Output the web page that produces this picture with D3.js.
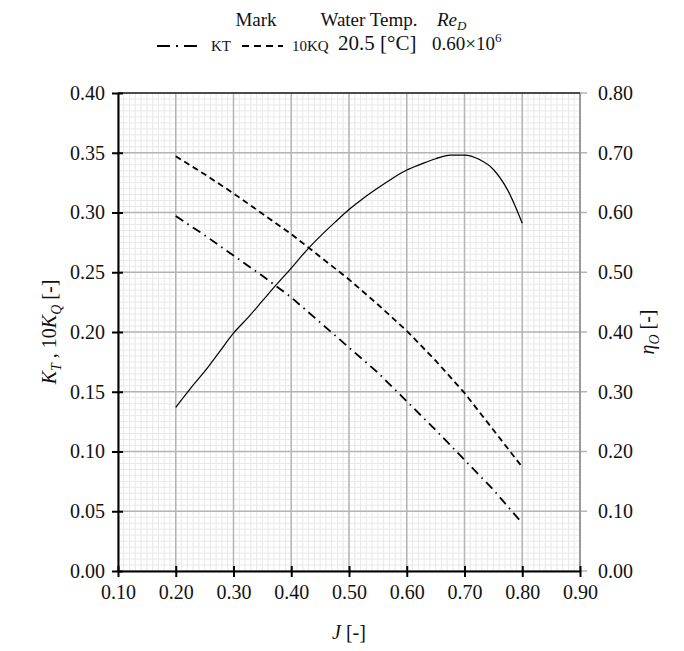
<!DOCTYPE html>
<html>
<head>
<meta charset="utf-8">
<script src="https://cdn.jsdelivr.net/npm/d3@7"></script>
<style>
  body { margin: 0; background: #fff; }
  svg { font-family: "Liberation Serif", "Times New Roman", serif; }
</style>
</head>
<body>
<svg id="chart" width="684" height="651"></svg>
<script>
// valores
var J = [0.20, 0.25, 0.30, 0.35, 0.40, 0.45, 0.50, 0.55, 0.60, 0.65, 0.70, 0.75, 0.80];
var KT = [0.297, 0.281, 0.264, 0.247, 0.229, 0.208, 0.187, 0.166, 0.142, 0.118, 0.093, 0.068, 0.040];
var KQ10 = [0.347, 0.332, 0.316, 0.299, 0.282, 0.263, 0.244, 0.223, 0.201, 0.176, 0.149, 0.118, 0.087];

var etaJ = [0.200, 0.225, 0.250, 0.275, 0.300, 0.325, 0.350, 0.375, 0.400, 0.425, 0.450, 0.475, 0.500,
            0.525, 0.550, 0.575, 0.600, 0.625, 0.650, 0.675, 0.700, 0.725, 0.750, 0.775, 0.800];
var eta = [0.274, 0.305, 0.334, 0.366, 0.398, 0.424, 0.452, 0.480, 0.507, 0.535, 0.560, 0.583, 0.605,
           0.624, 0.641, 0.657, 0.671, 0.681, 0.690, 0.696, 0.696, 0.689, 0.672, 0.637, 0.582];

var xTicks = [0.1, 0.2, 0.3, 0.4, 0.5, 0.6, 0.7, 0.8, 0.9];
var yLeftTicks = [0, 0.05, 0.10, 0.15, 0.20, 0.25, 0.30, 0.35, 0.40];
var yRightTicks = [0, 0.1, 0.2, 0.3, 0.4, 0.5, 0.6, 0.7, 0.8];

function dibujar(){

    var svg = d3.select('#chart');

    var pLeft = 118, pRight = 580, pTop = 93, pBottom = 571;

    var x = d3.scaleLinear().domain([0.1, 0.9]).range([pLeft, pRight]),
        yL = d3.scaleLinear().domain([0, 0.4]).range([pBottom, pTop]),
        yR = d3.scaleLinear().domain([0, 0.8]).range([pBottom, pTop]);

    var fmt = d3.format(".2f");

    /* rejilla menor */
    var grid = svg.append("g");
    grid.selectAll(".vmin")
        .data(d3.range(0.1, 0.9001, 0.01))
        .enter().append("line")
        .attr("x1", function(d){ return x(d); }).attr("x2", function(d){ return x(d); })
        .attr("y1", pTop).attr("y2", pBottom)
        .attr("stroke", "#e8e8e8").attr("stroke-width", 1);
    grid.selectAll(".hmin")
        .data(d3.range(0, 0.4001, 0.005))
        .enter().append("line")
        .attr("y1", function(d){ return yL(d); }).attr("y2", function(d){ return yL(d); })
        .attr("x1", pLeft).attr("x2", pRight)
        .attr("stroke", "#e8e8e8").attr("stroke-width", 1);

    /* rejilla mayor */
    grid.selectAll(".vmaj")
        .data(xTicks)
        .enter().append("line")
        .attr("x1", function(d){ return x(d); }).attr("x2", function(d){ return x(d); })
        .attr("y1", pTop).attr("y2", pBottom)
        .attr("stroke", "#b4b4b4").attr("stroke-width", 1.5);
    grid.selectAll(".hmaj")
        .data(yLeftTicks)
        .enter().append("line")
        .attr("y1", function(d){ return yL(d); }).attr("y2", function(d){ return yL(d); })
        .attr("x1", pLeft).attr("x2", pRight + 7)
        .attr("stroke", "#b4b4b4").attr("stroke-width", 1.5);

    /* marco */
    svg.append("line").attr("x1", pRight).attr("x2", pRight).attr("y1", pTop).attr("y2", pBottom)
        .attr("stroke", "#999").attr("stroke-width", 2);
    svg.append("line").attr("x1", pLeft).attr("x2", pRight).attr("y1", pTop).attr("y2", pTop)
        .attr("stroke", "#222").attr("stroke-width", 1.5);

    /* ejes */
    var gx = svg.append("g").attr("transform", "translate(0," + pBottom + ")")
        .call(d3.axisBottom(x).tickValues(xTicks).tickFormat(fmt).tickSize(6).tickSizeOuter(0));
    gx.selectAll(".tick line").attr("y1", -5).attr("y2", 6).attr("stroke", "#000").attr("stroke-width", 2);
    gx.select(".domain").attr("stroke", "#000").attr("stroke-width", 2);
    gx.selectAll(".tick text").attr("y", 14).attr("font-size", "20px").attr("fill", "#111")
        .attr("font-family", "Liberation Serif");

    var gl = svg.append("g").attr("transform", "translate(" + pLeft + ",0)")
        .call(d3.axisLeft(yL).tickValues(yLeftTicks).tickFormat(fmt).tickSize(6).tickSizeOuter(0));
    gl.selectAll(".tick line").attr("x1", 5).attr("x2", -6).attr("stroke", "#000").attr("stroke-width", 2);
    gl.select(".domain").attr("stroke", "#000").attr("stroke-width", 2);
    gl.selectAll(".tick text").attr("x", -13).attr("font-size", "20px").attr("fill", "#111")
        .attr("font-family", "Liberation Serif");

    var gr = svg.append("g").attr("transform", "translate(" + pRight + ",0)")
        .call(d3.axisRight(yR).tickValues(yRightTicks).tickFormat(fmt).tickSize(0).tickSizeOuter(0));
    gr.select(".domain").remove();
    gr.selectAll(".tick text").attr("x", 18).attr("font-size", "20px").attr("fill", "#111")
        .attr("font-family", "Liberation Serif");

    /* curvas */
    var kLine = d3.line()
        .x(function(d){ return x(d[0]); })
        .y(function(d){ return yL(d[1]); });

    var eLine = d3.line()
        .x(function(d){ return x(d[0]); })
        .y(function(d){ return yR(d[1]); })
        .curve(d3.curveMonotoneX);

    svg.append("path")
        .datum(J.map(function(j, i){ return [j, KT[i]]; }))
        .attr("d", kLine)
        .attr("fill", "none").attr("stroke", "#000").attr("stroke-width", 1.8)
        .attr("stroke-dasharray", "9,5,1.5,5");

    svg.append("path")
        .datum(J.map(function(j, i){ return [j, KQ10[i]]; }))
        .attr("d", kLine)
        .attr("fill", "none").attr("stroke", "#000").attr("stroke-width", 1.8)
        .attr("stroke-dasharray", "6,4");

    svg.append("path")
        .datum(etaJ.map(function(j, i){ return [j, eta[i]]; }))
        .attr("d", eLine)
        .attr("fill", "none").attr("stroke", "#000").attr("stroke-width", 1.2);

    /* titulos de ejes */
    var jt = svg.append("text").attr("x", 349).attr("y", 639).attr("text-anchor", "middle")
        .attr("font-size", "20px").attr("fill", "#111");
    jt.append("tspan").attr("font-style", "italic").text("J");
    jt.append("tspan").text(" [-]");

    var lt = svg.append("text")
        .attr("transform", "translate(56," + ((pTop + pBottom) / 2) + ") rotate(-90)")
        .attr("text-anchor", "middle").attr("font-size", "20px").attr("fill", "#111");
    lt.append("tspan").attr("font-style", "italic").text("K");
    lt.append("tspan").attr("font-style", "italic").attr("font-size", "14px").attr("dy", 5).text("T");
    lt.append("tspan").attr("dy", -5).text(" , 10");
    lt.append("tspan").attr("font-style", "italic").text("K");
    lt.append("tspan").attr("font-style", "italic").attr("font-size", "14px").attr("dy", 5).text("Q");
    lt.append("tspan").attr("dy", -5).text(" [-]");

    var rt = svg.append("text")
        .attr("transform", "translate(654," + ((pTop + pBottom) / 2) + ") rotate(-90)")
        .attr("text-anchor", "middle").attr("font-size", "20px").attr("fill", "#111");
    rt.append("tspan").attr("font-style", "italic").text("η");
    rt.append("tspan").attr("font-style", "italic").attr("font-size", "14px").attr("dy", 5).text("O");
    rt.append("tspan").attr("dy", -5).text(" [-]");

    /* leyenda */
    var lg = svg.append("g").attr("font-size", "19px").attr("fill", "#111");
    lg.append("text").attr("x", 256).attr("y", 26).attr("text-anchor", "middle").text("Mark");
    lg.append("text").attr("x", 369).attr("y", 26).attr("text-anchor", "middle").text("Water Temp.");
    var re = lg.append("text").attr("x", 437).attr("y", 26).attr("font-style", "italic");
    re.append("tspan").text("Re");
    re.append("tspan").attr("font-size", "13px").attr("dy", 4).text("D");

    lg.append("line").attr("x1", 157).attr("x2", 201).attr("y1", 46).attr("y2", 46)
        .attr("stroke", "#000").attr("stroke-width", 1.8).attr("stroke-dasharray", "13,6,2,6");
    lg.append("text").attr("x", 211).attr("y", 51).attr("font-size", "15px").text("KT");
    lg.append("line").attr("x1", 242).attr("x2", 283).attr("y1", 46).attr("y2", 46)
        .attr("stroke", "#000").attr("stroke-width", 1.8).attr("stroke-dasharray", "7,5");
    lg.append("text").attr("x", 292).attr("y", 51).attr("font-size", "15px").text("10KQ");
    lg.append("text").attr("x", 338).attr("y", 50).attr("font-size", "21px").text("20.5 [°C]");
    var rv = lg.append("text").attr("x", 432).attr("y", 50).attr("font-size", "19px");
    rv.append("tspan").text("0.60×10");
    rv.append("tspan").attr("font-size", "13px").attr("dy", -8).text("6");
}

dibujar();
</script>
</body>
</html>
